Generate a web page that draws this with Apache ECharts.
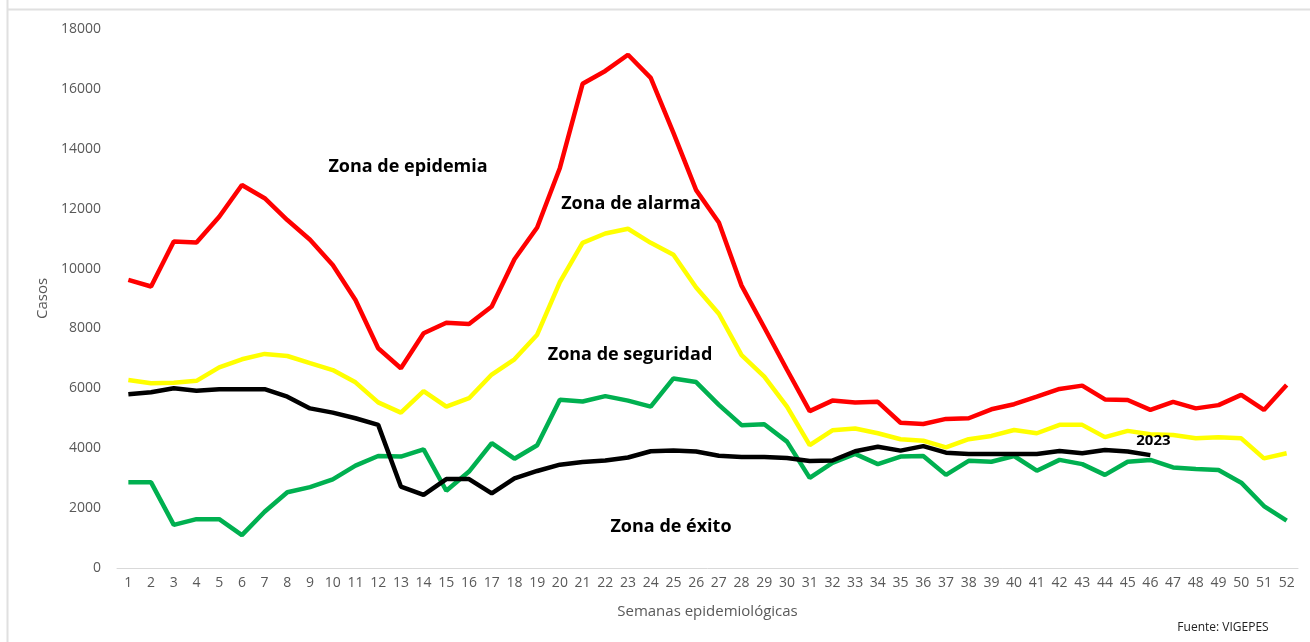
<!DOCTYPE html>
<html><head><meta charset="utf-8">
<script src="https://cdn.jsdelivr.net/npm/echarts@6/dist/echarts.min.js"></script>
<style>html,body{margin:0;padding:0;background:#fff}#c{width:1310px;height:642px}</style>
</head><body><div id="c"></div>
<script>
const weeks = Array.from({length:52},(_,i)=>String(i+1));
const epidemia = [9620,9400,10900,10870,11730,12790,12350,11620,10960,10120,8950,7340,6670,7840,8190,8150,8730,10310,11370,13360,16170,16600,17140,16370,14530,12620,11540,9430,8030,6620,5240,5590,5530,5550,4850,4810,4980,5000,5300,5470,5720,5980,6090,5630,5610,5280,5550,5330,5440,5780,5280,6110];
const alarma = [6280,6170,6190,6250,6700,6970,7150,7080,6840,6610,6200,5530,5190,5910,5390,5670,6460,6970,7790,9550,10860,11170,11330,10860,10460,9370,8490,7110,6390,5390,4100,4600,4660,4500,4300,4250,4030,4300,4410,4610,4500,4780,4780,4370,4580,4470,4440,4330,4370,4330,3660,3830];
const seguridad = [2860,2860,1440,1630,1630,1100,1880,2530,2700,2960,3420,3740,3720,3960,2580,3220,4170,3650,4100,5620,5560,5740,5590,5390,6330,6210,5450,4770,4800,4220,3010,3510,3810,3470,3720,3740,3110,3580,3550,3740,3250,3610,3470,3110,3550,3610,3360,3310,3270,2850,2070,1580];
const y2023 = [5800,5870,6000,5920,5970,5970,5970,5720,5330,5190,5000,4780,2720,2440,2970,2970,2490,2990,3240,3450,3540,3590,3690,3900,3920,3890,3750,3710,3710,3670,3570,3590,3900,4050,3920,4070,3850,3810,3810,3810,3810,3910,3830,3940,3890,3770];
const yTicks = [0,2000,4000,6000,8000,10000,12000,14000,16000,18000];
const lastIdx = y2023.length - 1;

const chart = echarts.init(document.getElementById('c'), null, {renderer:'canvas'});
const FF = '"Open Sans", "Liberation Sans", sans-serif';
const zoneFont = {fontFamily:FF, fontWeight:'bold', fontSize:18, fill:'#000'};
function mk(name, data, color){
  return {name, type:'line', data, symbol:'none', smooth:false,
    lineStyle:{color, width:4.5}, itemStyle:{color}, z: 2};
}
chart.setOption({
  animation:false,
  grid:{left:117, right:12, top:29, bottom:74},
  xAxis:{type:'category', data:weeks, boundaryGap:true,
    axisLine:{lineStyle:{color:'#d9d9d9', width:1}}, axisTick:{show:false},
    axisLabel:{color:'#595959', fontSize:14, margin:8, interval:0, fontFamily:FF},
    name:'Semanas epidemiológicas', nameLocation:'middle', nameGap:36,
    nameTextStyle:{color:'#595959', fontSize:15, fontFamily:FF}},
  yAxis:{type:'value', min:yTicks[0], max:yTicks[yTicks.length-1], interval:2000,
    axisLine:{show:false}, axisTick:{show:false}, splitLine:{show:false},
    axisLabel:{color:'#595959', fontSize:14, margin:16, fontFamily:FF, formatter:v=>String(v)},
    name:'Casos', nameLocation:'middle', nameGap:66, nameRotate:90,
    nameTextStyle:{color:'#595959', fontSize:15, fontFamily:FF}},
  series:[
    mk('Epidemia', epidemia, '#ff0000'),
    mk('Alarma', alarma, '#ffff00'),
    mk('Seguridad', seguridad, '#00b050'),
    Object.assign(mk('2023', y2023, '#000000'), {z:3,
      markPoint:{symbol:'circle', symbolSize:1, itemStyle:{color:'rgba(0,0,0,0)'}, silent:true,
        label:{show:true, position:'top', distance:6, offset:[3,0], color:'#000', fontWeight:'bold', fontSize:15, fontFamily:FF, formatter:'2023'},
        data:[{coord:[weeks[lastIdx], y2023[lastIdx]]}]}})
  ],
  graphic:[
    {type:'line', shape:{x1:7.5,y1:0,x2:7.5,y2:642}, style:{stroke:'#e0e0e0', lineWidth:2}, silent:true},
    {type:'line', shape:{x1:7,y1:9.5,x2:1310,y2:9.5}, style:{stroke:'#e0e0e0', lineWidth:2}, silent:true},
    {type:'text', x:408, y:167, style:Object.assign({text:'Zona de epidemia', align:'center', verticalAlign:'middle'}, zoneFont)},
    {type:'text', x:631, y:204, style:Object.assign({text:'Zona de alarma', align:'center', verticalAlign:'middle'}, zoneFont)},
    {type:'text', x:630, y:355, style:Object.assign({text:'Zona de seguridad', align:'center', verticalAlign:'middle'}, zoneFont)},
    {type:'text', x:671, y:527, style:Object.assign({text:'Zona de éxito', align:'center', verticalAlign:'middle'}, zoneFont)},
    {type:'text', x:1223, y:628, style:{text:'Fuente: VIGEPES', align:'center', verticalAlign:'middle', fontSize:12, fill:'#222', fontFamily:FF}}
  ]
});
</script></body></html>
